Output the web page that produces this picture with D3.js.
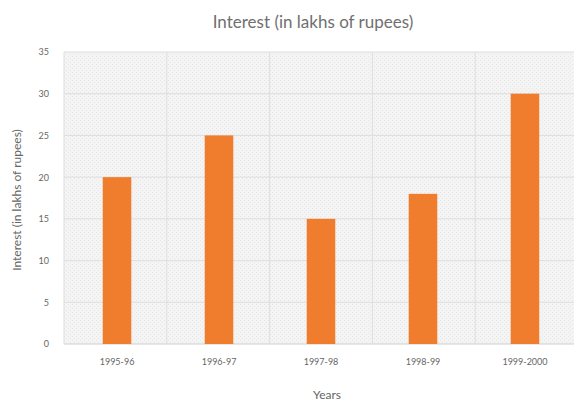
<!DOCTYPE html>
<html>
<head>
<meta charset="utf-8">
<script src="https://cdn.jsdelivr.net/npm/d3@7"></script>
<style>
  body { margin: 0; background: #fff; }
  text { font-family: Lato, "Open Sans", sans-serif; }
</style>
</head>
<body>
<div id="viz"></div>
<script>
// chart data
const years = ["1995-96", "1996-97", "1997-98", "1998-99", "1999-2000"];
const interest = [20, 25, 15, 18, 30];
const yTicks = [0, 5, 10, 15, 20, 25, 30, 35];

const outerWidth = 574, outerHeight = 404;
const plot = {left: 64, right: 578, top: 52, bottom: 344};

const svg = d3.select("#viz").append("svg")
    .attr("width", outerWidth)
    .attr("height", outerHeight);

// faint dotted texture in the plot background
const pat = svg.append("defs").append("pattern")
    .attr("id", "dots")
    .attr("width", 4).attr("height", 4)
    .attr("patternUnits", "userSpaceOnUse");
pat.append("rect").attr("width", 4).attr("height", 4).attr("fill", "#f4f4f4");
pat.append("rect").attr("width", 1).attr("height", 1).attr("fill", "#e6e6e6");
pat.append("rect").attr("x", 2).attr("y", 2).attr("width", 1).attr("height", 1).attr("fill", "#e6e6e6");

const x = d3.scaleBand().domain(years).range([plot.left, plot.right]).paddingInner(0.72).paddingOuter(0.38);
const xGrid = d3.scaleBand().domain(years).range([plot.left, plot.right]);
const y = d3.scaleLinear().domain([0, 35]).range([plot.bottom, plot.top]);

svg.append("rect")
    .attr("x", plot.left).attr("y", plot.top)
    .attr("width", plot.right - plot.left).attr("height", plot.bottom - plot.top)
    .attr("fill", "url(#dots)");

// gridlines
svg.append("g").selectAll("line")
    .data(yTicks).join("line")
    .attr("x1", plot.left).attr("x2", plot.right)
    .attr("y1", d => y(d)).attr("y2", d => y(d))
    .attr("stroke", d => d === 0 ? "#d0d0d0" : "#dedede");

svg.append("g").selectAll("line")
    .data(years).join("line")
    .attr("x1", d => xGrid(d)).attr("x2", d => xGrid(d))
    .attr("y1", plot.top).attr("y2", plot.bottom)
    .attr("stroke", "#dedede");

// bars
svg.append("g").selectAll("rect")
    .data(years).join("rect")
    .attr("x", d => x(d))
    .attr("width", x.bandwidth())
    .attr("y", (d, i) => y(interest[i]))
    .attr("height", (d, i) => y(0) - y(interest[i]))
    .attr("fill", "#ef7d2d");

// axes
const yAxis = svg.append("g")
    .attr("transform", "translate(" + (plot.left - 12) + ",0)")
    .call(d3.axisLeft(y).tickValues(yTicks).tickSize(0));
yAxis.select(".domain").remove();
yAxis.selectAll("text").attr("fill", "#666").style("font-size", "9px");

const xAxis = svg.append("g")
    .attr("transform", "translate(0," + (plot.bottom + 12) + ")")
    .call(d3.axisBottom(x).tickSize(0));
xAxis.select(".domain").remove();
xAxis.selectAll("text").attr("fill", "#666").style("font-size", "9px");

// titles
svg.append("text")
    .attr("x", 313).attr("y", 28)
    .attr("text-anchor", "middle")
    .attr("fill", "#707070")
    .style("font-size", "17px")
    .text("Interest (in lakhs of rupees)");

svg.append("text")
    .attr("x", 327).attr("y", 399)
    .attr("text-anchor", "middle")
    .attr("fill", "#666")
    .style("font-size", "12px")
    .text("Years");

svg.append("text")
    .attr("transform", "translate(21,200) rotate(-90)")
    .attr("text-anchor", "middle")
    .attr("fill", "#666")
    .style("font-size", "12px")
    .text("Interest (in lakhs of rupees)");
</script>
</body>
</html>
